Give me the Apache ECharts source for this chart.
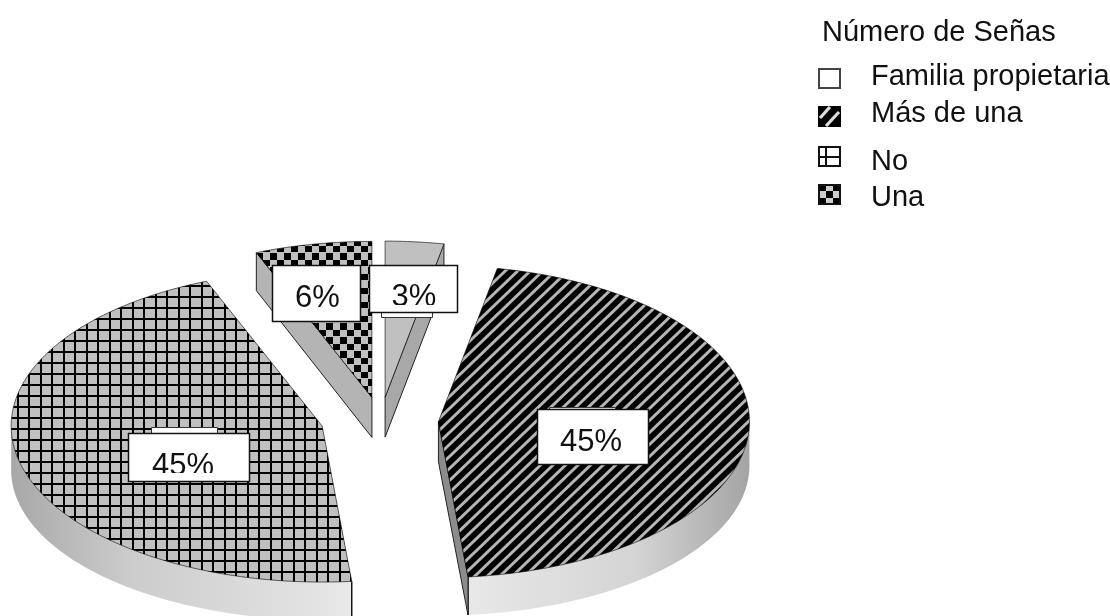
<!DOCTYPE html>
<html>
<head>
<meta charset="utf-8">
<style>html,body{margin:0;padding:0;background:#fff}#c{width:1110px;height:616px}</style>
<script src="https://cdn.jsdelivr.net/npm/echarts@6/dist/echarts.min.js"></script>
</head>
<body>
<div id="c"></div>
<script>
const legendTitle = 'Número de Señas';
const categories = ['Familia propietaria', 'Más de una', 'No', 'Una'];
const counts = [1, 15, 15, 2];

// layout (not data)
const FONT = '"Liberation Sans", Arial, sans-serif';
const pie = { cx: 379.5, cy: 420.5, rx: 311, ry: 156, lowOffset: 44, lowRy: 150 };
const explodeX = [59, 59, 59, 40];
const explodeY = [23.5, 23.5, 23.5, 23.5];
const depths = [40, 40, 40, 38];
const labelBoxes = [
  { x: 369, y: 265, w: 88, h: 47, tx: 414, ty: 306, clip: 305, strip: [381, 312, 51, 5] },
  { x: 537, y: 409, w: 111, h: 55, tx: 591, ty: 451, clip: 464, strip: [549, 407, 66, 2] },
  { x: 128, y: 433, w: 121, h: 48, tx: 183, ty: 475, clip: 473, strip: [151, 427, 66, 6] },
  { x: 272, y: 265, w: 88, h: 56, tx: 317.5, ty: 307, clip: 321, strip: null }
];
const legendRows = [
  { icon: 68, text: 85 },
  { icon: 106, text: 122 },
  { icon: 146, text: 170 },
  { icon: 184, text: 206 }
];

function makeCanvas(w, h, draw) {
  const c = document.createElement('canvas');
  c.width = w; c.height = h;
  draw(c.getContext('2d'), w, h);
  return c;
}
const stripeTile = makeCanvas(25, 24, (g, w, h) => {
  g.fillStyle = '#000'; g.fillRect(0, 0, w, h);
  g.strokeStyle = '#b6b6b6'; g.lineWidth = 3;
  for (let o = -50; o <= 50; o += 12.5) {
    g.beginPath(); g.moveTo(o - w, 2 * h); g.lineTo(o + 2 * w, -h); g.stroke();
  }
});
const gridTile = makeCanvas(23, 22, (g, w, h) => {
  g.fillStyle = '#c0c0c0'; g.fillRect(0, 0, w, h);
  g.fillStyle = '#000';
  [5, 17].forEach(x => g.fillRect(x, 0, 2, h));
  [10, 21].forEach(y => g.fillRect(0, y, w, 2));
  g.fillRect(0, 0, w, 1);
});
const checkTile = makeCanvas(14, 14, (g) => {
  g.fillStyle = '#c0c0c0'; g.fillRect(0, 0, 14, 14);
  g.fillStyle = '#000';
  g.fillRect(11, 8, 3, 6); g.fillRect(0, 8, 4, 6);
  g.fillRect(4, 1, 7, 7);
});
const topFills = [
  '#c0c0c0',
  { image: stripeTile, repeat: 'repeat' },
  { image: gridTile, repeat: 'repeat' },
  { image: checkTile, repeat: 'repeat' }
];
const sideFills = [
  null,
  new echarts.graphic.LinearGradient(0, 0, 1, 0, [
    { offset: 0, color: '#e8e8e8' }, { offset: 0.6, color: '#d4d4d4' }, { offset: 1, color: '#a4a4a4' }
  ]),
  new echarts.graphic.LinearGradient(0, 0, 1, 0, [
    { offset: 0, color: '#a8a8a8' }, { offset: 0.35, color: '#cccccc' }, { offset: 1, color: '#e8e8e8' }
  ]),
  null
];
const faceFills = ['#a8a8a8', '#8c8c8c', '#a8a8a8', '#b4b4b4'];

const icons = [
  makeCanvas(23, 21, (g, w, h) => {
    g.fillStyle = '#fff'; g.fillRect(0, 0, w, h);
    g.strokeStyle = '#444'; g.lineWidth = 2; g.strokeRect(1, 1, w - 2, h - 2);
  }),
  makeCanvas(23, 21, (g, w, h) => {
    g.fillStyle = '#000'; g.fillRect(0, 0, w, h);
    g.strokeStyle = '#ddd'; g.lineWidth = 3.2;
    [[2, 12, 12, 1], [8, 20, 21, 6]].forEach(s => { g.beginPath(); g.moveTo(s[0], s[1]); g.lineTo(s[2], s[3]); g.stroke(); });
  }),
  makeCanvas(23, 21, (g, w, h) => {
    g.fillStyle = '#fff'; g.fillRect(0, 0, w, h);
    g.strokeStyle = '#111'; g.lineWidth = 2; g.strokeRect(1, 1, w - 2, h - 2);
    g.fillStyle = '#111'; g.fillRect(7, 0, 2, h); g.fillRect(0, 10, w, 2);
  }),
  makeCanvas(23, 21, (g, w, h) => {
    g.fillStyle = '#ccc'; g.fillRect(0, 0, w, h);
    g.fillStyle = '#000';
    g.fillRect(0, 0, 8, 7); g.fillRect(15, 0, 8, 7);
    g.fillRect(8, 7, 7, 7);
    g.fillRect(0, 14, 8, 7); g.fillRect(15, 14, 8, 7);
    g.strokeStyle = '#111'; g.lineWidth = 2; g.strokeRect(1, 1, w - 2, h - 2);
  })
];

const total = counts.reduce((a, b) => a + b, 0);
const BASE = 0.27; // distance from the text middle to its baseline, in ems

function renderSlice(params, api) {
  const i = params.dataIndex;
  let before = 0;
  for (let k = 0; k < i; k++) before += counts[k];
  const a0 = before / total * Math.PI * 2;
  const a1 = (before + api.value(0)) / total * Math.PI * 2;
  const mid = (a0 + a1) / 2;
  const ax = pie.cx + Math.sin(mid) * explodeX[i];
  const ay = pie.cy - Math.cos(mid) * explodeY[i];
  const d = depths[i];
  const rim = (a) => [ax + Math.sin(a) * pie.rx, ay - Math.cos(a) * pie.ry];
  const low = (a) => [ax + Math.sin(a) * pie.rx, ay + pie.lowOffset - Math.cos(a) * pie.lowRy];
  const children = [];

  const f0 = Math.max(a0, Math.PI / 2), f1 = Math.min(a1, Math.PI * 1.5);
  const hasWall = f1 > f0;
  if (hasWall) {
    const up = [], down = [];
    const n = Math.ceil((f1 - f0) * 80);
    for (let k = 0; k <= n; k++) {
      const t = f0 + (f1 - f0) * k / n;
      up.push(rim(t)); down.unshift(low(t));
    }
    children.push({ type: 'polygon', shape: { points: up.concat(down) }, style: { fill: sideFills[i], stroke: null } });
    [a0, a1].forEach(a => {
      if (Math.cos(a) < 0) {
        const p = rim(a), q = low(a);
        children.push({ type: 'line', shape: { x1: p[0], y1: p[1], x2: q[0], y2: q[1] }, style: { stroke: '#111', lineWidth: 1.5 } });
      }
    });
  }
  [[a0, Math.sin(a0) < -1e-6], [a1, Math.sin(a1) > 1e-6]].forEach(([a, show]) => {
    if (!show) return;
    const p = rim(a);
    const q = hasWall ? low(a) : [p[0], p[1] + d];
    children.push({
      type: 'polygon',
      shape: { points: [[ax, ay], p, q, [ax, ay + 40]] },
      style: { fill: faceFills[i], stroke: '#222', lineWidth: 1 }
    });
  });
  const pts = [[ax, ay]];
  const m = Math.ceil((a1 - a0) * 80);
  for (let k = 0; k <= m; k++) pts.push(rim(a0 + (a1 - a0) * k / m));
  children.push({ type: 'polygon', shape: { points: pts }, style: { fill: topFills[i], stroke: 'rgba(0,0,0,0.6)', lineWidth: 1 } });

  const b = labelBoxes[i];
  if (b.strip) {
    children.push({ type: 'rect', z2: 100, shape: { x: b.strip[0] + 0.5, y: b.strip[1] + 0.5, width: b.strip[2], height: b.strip[3] },
      style: { fill: '#fff', stroke: '#333', lineWidth: 1 } });
  }
  children.push({ type: 'rect', z2: 101, shape: { x: b.x + 0.5, y: b.y + 0.5, width: b.w, height: b.h }, style: { fill: '#fff', stroke: '#111', lineWidth: 1.5 } });
  children.push({
    type: 'text', z2: 102,
    clipPath: { type: 'rect', shape: { x: b.x, y: b.y, width: b.w, height: b.clip - b.y } },
    style: { x: b.tx, y: b.ty - BASE * 31, text: Math.round(api.value(0) / total * 100) + '%', fill: '#111',
      font: '31px ' + FONT, align: 'center', verticalAlign: 'middle' }
  });
  return { type: 'group', children };
}

const legendGraphics = [{
  type: 'text', x: 822, y: 40.5 - BASE * 29, silent: true,
  style: { text: legendTitle, fill: '#111', font: '29px ' + FONT, verticalAlign: 'middle' }
}];
categories.forEach((name, i) => {
  legendGraphics.push({ type: 'image', x: 818, y: legendRows[i].icon, silent: true, style: { image: icons[i], x: 0, y: 0, width: 23, height: 21 } });
  legendGraphics.push({ type: 'text', x: 871, y: legendRows[i].text - BASE * 29, silent: true,
    style: { text: name, fill: '#111', font: '29px ' + FONT, verticalAlign: 'middle' } });
});

const chart = echarts.init(document.getElementById('c'), null, { renderer: 'canvas' });
chart.setOption({
  animation: false,
  backgroundColor: '#fff',
  tooltip: { show: false },
  graphic: { elements: legendGraphics },
  series: [{
    type: 'custom',
    coordinateSystem: 'none',
    clip: false,
    silent: true,
    renderItem: renderSlice,
    data: counts.map((v, i) => ({ name: categories[i], value: [v] }))
  }]
});
</script>
</body>
</html>
